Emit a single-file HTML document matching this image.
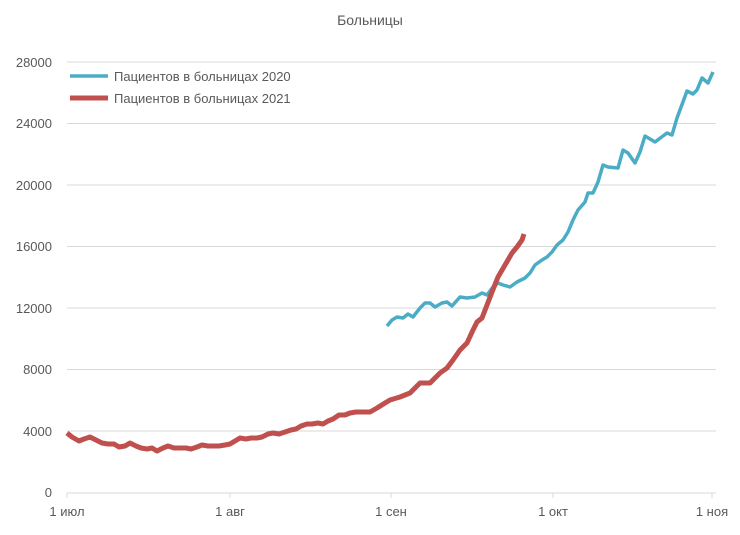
<!DOCTYPE html><html><head><meta charset="utf-8"><style>body{margin:0;background:#fff}svg{display:block}text{font-family:"Liberation Sans",sans-serif;fill:#595959}</style></head><body>
<svg width="740" height="535" viewBox="0 0 740 535">
<text x="370" y="25" font-size="14" text-anchor="middle" fill="#595959">Больницы</text>
<g stroke="#d9d9d9" stroke-width="1">
<line x1="67" x2="716" y1="62" y2="62"/><line x1="67" x2="716" y1="123.5" y2="123.5"/><line x1="67" x2="716" y1="185" y2="185"/><line x1="67" x2="716" y1="246.5" y2="246.5"/><line x1="67" x2="716" y1="308" y2="308"/><line x1="67" x2="716" y1="369.5" y2="369.5"/><line x1="67" x2="716" y1="431" y2="431"/><line x1="67" x2="716" y1="493" y2="493"/>
<line x1="67" x2="67" y1="493" y2="498"/><line x1="230" x2="230" y1="493" y2="498"/><line x1="391" x2="391" y1="493" y2="498"/><line x1="553" x2="553" y1="493" y2="498"/><line x1="712" x2="712" y1="493" y2="498"/>
</g>
<g font-size="13" text-anchor="end">
<text x="52" y="67">28000</text><text x="52" y="128">24000</text><text x="52" y="190">20000</text><text x="52" y="251">16000</text><text x="52" y="313">12000</text><text x="52" y="374">8000</text><text x="52" y="436">4000</text><text x="52" y="497">0</text>
</g>
<g font-size="13" text-anchor="middle">
<text x="67" y="516">1 июл</text><text x="230" y="516">1 авг</text><text x="391" y="516">1 сен</text><text x="553" y="516">1 окт</text><text x="712" y="516">1 ноя</text>
</g>
<polyline fill="none" stroke="#4BACC6" stroke-width="3.5" stroke-linejoin="round" points="387,326 392,320 397,317 403,318 408,314 413,317 420,308 425,303 430,303 435,307 442,303 447,302 452,306 460,297 467,298 475,297 482,293 487,295 493,287 498,283 503,285 510,287 517,282 525,278 530,273 535,265 542,260 547,257 552,252 557,245 563,240 568,232 573,220 578,210 585,202 588,193 593,193 598,182 603,165 608,167 618,168 623,150 628,153 635,163 640,152 645,136 655,142 667,133 672,135 677,118 687,91 693,94 697,90 702,78 708,83 713,72"/>
<polyline fill="none" stroke="#C0504D" stroke-width="5" stroke-linejoin="round" points="67,433 72,437 79,441 84,439 90,437 96,440 102,443 108,444 114,444 119,447 125,446 130,443 136,446 141,448 147,449 152,448 157,451 163,448 168,446 174,448 180,448 186,448 191,449 197,447 202,445 208,446 213,446 219,446 225,445 230,444 235,441 240,438 246,439 251,438 257,438 262,437 268,434 273,433 279,434 285,432 291,430 296,429 301,426 307,424 312,424 318,423 323,424 328,421 333,419 339,415 345,415 350,413 356,412 362,412 370,412 377,408 385,403 390,400 400,397 410,393 420,383 430,383 440,373 447,368 453,360 460,350 467,343 473,330 477,322 482,318 487,305 492,292 498,277 505,265 512,253 517,247 522,240 524,234"/>
<line x1="70" x2="108" y1="76" y2="76" stroke="#4BACC6" stroke-width="3.5"/>
<text x="114" y="81" font-size="13">Пациентов в больницах 2020</text>
<line x1="70" x2="108" y1="98" y2="98" stroke="#C0504D" stroke-width="5"/>
<text x="114" y="103" font-size="13">Пациентов в больницах 2021</text>
</svg></body></html>
